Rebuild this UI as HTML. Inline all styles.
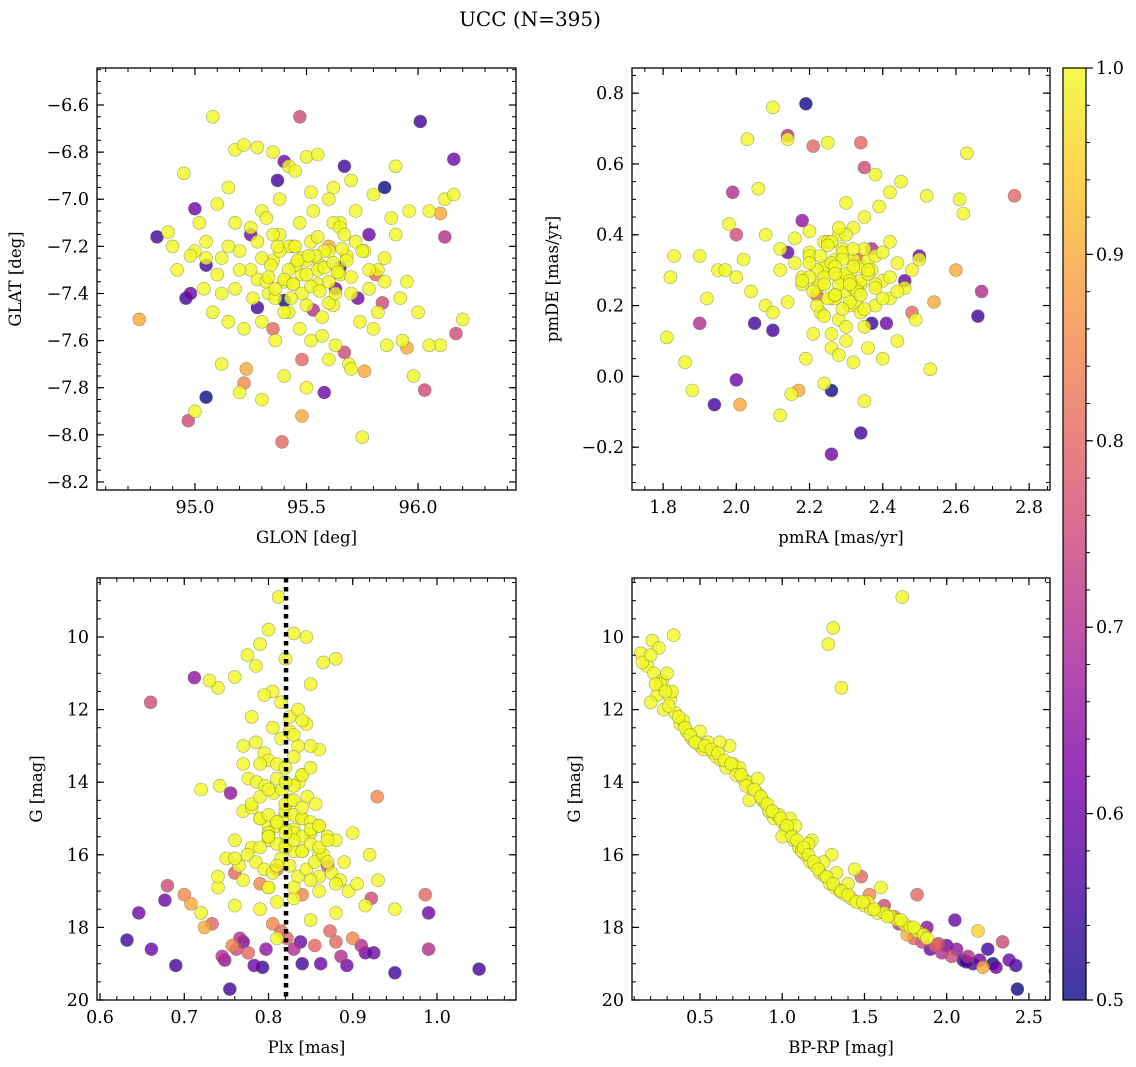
<!DOCTYPE html>
<html><head><meta charset="utf-8">
<style>
html,body{margin:0;padding:0;background:#fff;}
svg{display:block;font-family:"DejaVu Serif","Liberation Serif",serif;}
</style></head>
<body>
<svg id="fig" width="1136" height="1067" viewBox="0 0 1136 1067" xmlns="http://www.w3.org/2000/svg">
<defs>
<linearGradient id="cbgrad" x1="0" y1="1" x2="0" y2="0">
<stop offset="0" stop-color="#0d0887" stop-opacity="0.8"/>
<stop offset="0.125" stop-color="#4c02a1" stop-opacity="0.8"/>
<stop offset="0.25" stop-color="#7e03a8" stop-opacity="0.8"/>
<stop offset="0.375" stop-color="#a92395" stop-opacity="0.8"/>
<stop offset="0.5" stop-color="#cc4778" stop-opacity="0.8"/>
<stop offset="0.625" stop-color="#e66c5c" stop-opacity="0.8"/>
<stop offset="0.75" stop-color="#f89540" stop-opacity="0.8"/>
<stop offset="0.875" stop-color="#fdc527" stop-opacity="0.8"/>
<stop offset="1" stop-color="#f0f921" stop-opacity="0.8"/>
</linearGradient>
</defs>
<text x="530" y="26" font-size="20" text-anchor="middle">UCC (N=395)</text>
</svg>
<script>
// ---------- DATA ----------
const p1Glon = [95.47,96.01,96.16,95.37,95.40,95.67,95.85,95.00,94.83,96.12,96.10,95.05,94.98,94.96,95.28,95.40,95.25,95.63,95.65,95.73,95.84,95.81,95.78,96.17,95.95,95.48,95.67,95.76,95.23,95.22,95.58,95.05,94.97,95.48,95.39,96.03,94.75,95.53,95.35,95.60,
95.08,94.95,95.18,95.22,95.28,95.35,95.42,95.45,95.50,95.55,95.62,95.70,95.80,95.90,95.72,95.65,95.60,95.52,95.38,95.30,95.15,95.10,95.02,94.90,94.88,94.92,95.00,95.05,95.12,95.20,95.25,95.32,95.38,95.44,95.48,95.52,95.56,95.60,95.64,95.68,95.72,95.76,95.82,95.88,95.96,96.05,96.12,96.16,96.20,96.10,96.00,95.92,95.85,95.78,95.70,95.62,95.55,95.48,95.40,95.33,95.26,95.18,95.10,95.04,94.98,95.08,95.15,95.22,95.30,95.36,95.42,95.47,95.52,95.57,95.63,95.69,95.74,95.80,95.86,95.93,95.98,96.05,95.35,95.45,95.55,95.65,95.28,95.42,95.58,95.50,95.44,95.36,95.62,95.70,95.20,95.12,95.00,95.50,95.40,95.60,95.30,95.75],
p1Glat = [-6.65,-6.67,-6.83,-6.92,-6.84,-6.86,-6.95,-7.04,-7.16,-7.16,-7.06,-7.28,-7.40,-7.42,-7.46,-7.43,-7.15,-7.38,-7.29,-7.42,-7.44,-7.32,-7.15,-7.57,-7.63,-7.68,-7.65,-7.73,-7.72,-7.78,-7.82,-7.84,-7.94,-7.92,-8.03,-7.81,-7.51,-7.47,-7.55,-7.20,
-6.65,-6.89,-6.79,-6.77,-6.78,-6.80,-6.86,-6.88,-6.82,-6.81,-6.95,-6.92,-6.98,-6.86,-7.05,-7.10,-7.00,-6.97,-7.00,-7.05,-6.95,-7.02,-7.10,-7.20,-7.14,-7.30,-7.22,-7.18,-7.25,-7.22,-7.12,-7.08,-7.15,-7.20,-7.25,-7.18,-7.28,-7.22,-7.30,-7.24,-7.18,-7.22,-7.30,-7.08,-7.05,-7.05,-7.00,-6.98,-7.51,-7.62,-7.48,-7.42,-7.35,-7.38,-7.40,-7.45,-7.36,-7.32,-7.35,-7.40,-7.42,-7.38,-7.32,-7.38,-7.24,-7.48,-7.52,-7.55,-7.52,-7.60,-7.48,-7.55,-7.60,-7.58,-7.62,-7.70,-7.52,-7.55,-7.62,-7.60,-7.75,-7.62,-7.26,-7.28,-7.30,-7.32,-7.34,-7.20,-7.22,-7.26,-7.36,-7.42,-7.10,-7.72,-7.82,-7.70,-7.90,-7.80,-7.75,-7.68,-7.85,-8.01],
p1Prob = [0.75,0.55,0.6,0.55,0.6,0.55,0.5,0.6,0.55,0.7,0.9,0.55,0.6,0.55,0.55,0.5,0.6,0.6,0.55,0.6,0.75,0.8,0.6,0.75,0.9,0.8,0.75,0.9,0.9,0.85,0.6,0.5,0.75,0.9,0.8,0.75,0.9,0.7,0.8,0.9,
1,1,1,1,1,1,1,1,1,1,1,1,1,1,1,1,1,1,1,1,1,1,1,1,1,1,1,1,1,1,1,1,1,1,1,1,1,1,1,1,1,1,1,1,1,1,1,1,1,1,1,1,1,1,1,1,1,1,1,1,1,1,1,1,1,1,1,1,1,1,1,1,1,1,1,1,1,1,1,1,1,1,1,1,1,1,1,1,1,1,1,1,1,1,1,1,1,1,1,1,1,1];
const p1CoreGlon = [95.30,95.34,95.38,95.42,95.46,95.50,95.54,95.58,95.62,95.66,95.70,95.32,95.36,95.40,95.44,95.48,95.52,95.56,95.60,95.64,95.68,95.28,95.35,95.45,95.55,95.65,95.75,95.25,95.50,95.40,95.60,95.47,95.53,95.43,95.57,95.37,95.63,95.33,95.67,95.51,95.15,95.20,95.85,95.90,95.12,95.18,95.78,95.82,95.05,95.95],
p1CoreGlat = [-7.25,-7.28,-7.22,-7.30,-7.26,-7.32,-7.24,-7.29,-7.27,-7.21,-7.33,-7.35,-7.38,-7.34,-7.36,-7.40,-7.37,-7.39,-7.35,-7.31,-7.26,-7.18,-7.15,-7.20,-7.16,-7.12,-7.22,-7.30,-7.45,-7.48,-7.44,-7.10,-7.05,-7.42,-7.50,-7.20,-7.40,-7.33,-7.15,-7.24,-7.20,-7.30,-7.25,-7.15,-7.40,-7.10,-7.30,-7.48,-7.25,-7.35];

const p2Pmra = [2.19,2.14,2.21,2.34,1.99,2.00,2.18,2.14,2.37,2.50,2.60,2.76,2.67,2.66,2.54,2.48,2.41,2.37,2.05,2.10,1.90,1.94,2.00,2.01,2.26,2.34,2.26,2.17,2.33,2.35,2.46,2.22,
2.10,2.03,2.25,2.14,2.06,2.30,2.38,2.63,2.61,2.62,2.52,2.45,2.42,2.39,2.35,2.32,2.28,2.24,2.20,2.16,2.12,2.08,2.02,1.98,1.95,1.90,1.83,1.82,1.81,1.86,1.88,1.92,1.97,2.00,2.04,2.08,2.12,2.16,2.20,2.24,2.28,2.32,2.36,2.40,2.44,2.48,2.50,2.46,2.42,2.38,2.34,2.30,2.26,2.22,2.18,2.14,2.10,2.25,2.29,2.33,2.27,2.31,2.23,2.35,2.21,2.30,2.26,2.28,2.32,2.24,2.36,2.40,2.19,2.44,2.53,2.49,2.15,2.12,2.27,2.29,2.25,2.34,2.20,2.31,2.38,2.23,2.27,2.24,2.18,2.42,2.35],
p2Pmde = [0.77,0.68,0.65,0.66,0.52,0.40,0.44,0.35,0.36,0.34,0.30,0.51,0.24,0.17,0.21,0.18,0.15,0.15,0.15,0.13,0.15,-0.08,-0.01,-0.08,-0.04,-0.16,-0.22,-0.04,0.33,0.59,0.27,0.23,
0.76,0.67,0.66,0.67,0.53,0.49,0.57,0.63,0.50,0.46,0.51,0.55,0.52,0.48,0.45,0.42,0.40,0.38,0.41,0.39,0.36,0.40,0.33,0.43,0.30,0.34,0.34,0.28,0.11,0.04,-0.04,0.22,0.30,0.28,0.24,0.20,0.30,0.32,0.35,0.30,0.28,0.33,0.30,0.27,0.32,0.30,0.33,0.25,0.22,0.20,0.26,0.24,0.22,0.25,0.28,0.21,0.18,0.30,0.27,0.25,0.22,0.20,0.18,0.14,0.12,0.10,0.08,0.06,0.04,-0.02,0.08,0.05,0.05,0.10,0.02,0.16,-0.05,-0.11,0.33,0.36,0.38,0.31,0.34,0.29,0.26,0.26,0.23,0.31,0.26,0.38,-0.07],
p2Prob = [0.5,0.7,0.8,0.8,0.7,0.75,0.65,0.6,0.7,0.6,0.9,0.8,0.7,0.55,0.9,0.8,0.6,0.55,0.55,0.55,0.7,0.55,0.6,0.9,0.5,0.55,0.6,0.9,0.8,0.75,0.6,0.8,
1,1,1,1,1,1,1,1,1,1,1,1,1,1,1,1,1,1,1,1,1,1,1,1,1,1,1,1,1,1,1,1,1,1,1,1,1,1,1,1,1,1,1,1,1,1,1,1,1,1,1,1,1,1,1,1,1,1,1,1,1,1,1,1,1,1,1,1,1,1,1,1,1,1,1,1,1,1,1,1,1,1,1,1,1,1,1,1,1,1,1,1,1];
const p2CorePmra = [2.22,2.24,2.26,2.28,2.30,2.32,2.34,2.36,2.38,2.21,2.25,2.29,2.33,2.37,2.23,2.27,2.31,2.35,2.20,2.40,2.26,2.30,2.34,2.28,2.32,2.24,2.36,2.29,2.27,2.31,2.25,2.33,2.38,2.22,2.35,2.42,2.18,2.44,2.30,2.26,2.28,2.32,2.36,2.24,2.20,2.40,2.34,2.27,2.31,2.29],
p2CorePmde = [0.30,0.28,0.32,0.26,0.29,0.31,0.27,0.33,0.25,0.24,0.22,0.35,0.20,0.30,0.34,0.23,0.27,0.36,0.28,0.22,0.38,0.40,0.18,0.16,0.25,0.26,0.29,0.33,0.31,0.21,0.37,0.24,0.34,0.20,0.19,0.28,0.27,0.24,0.14,0.12,0.42,0.36,0.30,0.17,0.32,0.35,0.23,0.29,0.26,0.19];

const p3Plx = [0.660,0.712,0.755,0.632,0.646,0.661,0.677,0.680,0.690,0.700,0.708,0.724,0.733,0.745,0.748,0.754,0.757,0.762,0.766,0.770,0.776,0.783,0.793,0.797,0.805,0.815,0.822,0.830,0.838,0.840,0.855,0.862,0.873,0.880,0.886,0.893,0.900,0.910,0.915,0.922,0.925,0.929,0.950,0.986,0.990,0.990,1.050,0.840,0.790,0.810,0.870,0.760,
0.812,0.830,0.800,0.790,0.845,0.775,0.820,0.880,0.785,0.760,0.850,0.865,0.740,0.730,0.720,0.742,0.860,0.920,0.930,0.950,0.805,0.815,0.825,0.835,0.795,0.805,0.815,0.825,0.835,0.845,0.785,0.795,0.800,0.810,0.820,0.830,0.840,0.850,0.776,0.786,0.796,0.806,0.816,0.826,0.836,0.846,0.856,0.770,0.780,0.790,0.800,0.810,0.820,0.830,0.840,0.850,0.860,0.870,0.760,0.780,0.800,0.820,0.840,0.860,0.880,0.890,0.900,0.750,0.765,0.775,0.785,0.795,0.805,0.815,0.825,0.835,0.845,0.855,0.865,0.875,0.885,0.895,0.905,0.770,0.800,0.830,0.860,0.740,0.760,0.790,0.810,0.850,0.880,0.915,0.720,0.740,0.800,0.770,0.830],
p3G = [11.8,11.12,14.3,18.35,17.6,18.6,17.25,16.85,19.05,17.1,17.35,18.0,17.9,18.8,18.9,19.7,18.5,18.6,18.3,18.4,18.7,19.05,19.1,18.6,17.9,18.1,18.3,18.6,18.4,19.0,18.5,19.0,18.1,18.4,18.8,19.05,18.3,18.5,18.7,17.2,18.7,14.4,19.25,17.1,17.6,18.6,19.15,17.1,16.8,16.4,16.3,16.5,
8.9,9.9,9.8,10.2,10.0,10.5,10.6,10.6,10.8,11.1,11.3,10.7,11.4,11.2,14.2,14.1,13.1,16.0,16.7,17.5,11.5,11.8,12.2,12.0,11.6,12.5,12.8,12.6,13.0,12.4,12.9,13.2,13.4,13.5,13.6,13.3,13.8,13.0,13.9,14.0,14.1,14.3,14.2,14.5,14.0,14.4,14.6,14.8,14.7,15.0,15.2,15.1,14.9,15.3,15.0,15.4,15.2,15.5,15.6,15.8,15.6,15.7,15.9,16.0,15.6,16.2,15.4,16.1,16.3,16.0,16.2,16.4,16.5,16.1,16.3,16.6,16.4,16.2,16.0,16.5,16.7,17.0,16.8,16.7,16.9,17.2,17.0,16.9,17.4,17.5,17.3,17.8,17.6,17.4,17.6,16.6,15.4,13.5,15.9,16.9,18.3],
p3Prob = [0.75,0.65,0.65,0.55,0.6,0.6,0.6,0.75,0.55,0.85,0.9,0.9,0.8,0.7,0.65,0.55,0.85,0.75,0.7,0.6,0.8,0.6,0.55,0.65,0.85,0.8,0.8,0.7,0.6,0.55,0.8,0.6,0.8,0.8,0.7,0.6,0.85,0.7,0.6,0.75,0.6,0.85,0.55,0.8,0.6,0.7,0.55,0.85,0.85,0.8,0.75,0.8,
1,1,1,1,1,1,1,1,1,1,1,1,1,1,1,1,1,1,1,1,1,1,1,1,1,1,1,1,1,1,1,1,1,1,1,1,1,1,1,1,1,1,1,1,1,1,1,1,1,1,1,1,1,1,1,1,1,1,1,1,1,1,1,1,1,1,1,1,1,1,1,1,1,1,1,1,1,1,1,1,1,1,1,1,1,1,1,1,1,1,1,1,1,1,1,1,1,1,1,1,1,1,1,1,1,1,1,1];
const p3CorePlx = [0.80,0.81,0.82,0.83,0.84,0.85,0.79,0.80,0.81,0.82,0.83,0.84,0.85,0.86,0.80,0.81,0.82,0.83,0.84,0.78,0.79,0.80,0.81,0.82,0.83,0.84,0.85,0.86,0.87,0.80,0.82,0.84,0.81,0.83,0.79,0.85,0.80,0.82,0.84,0.83,0.77,0.78,0.81,0.86,0.87,0.88,0.76,0.79,0.83,0.85],
p3CoreG = [14.8,14.9,15.0,15.1,15.0,14.9,15.2,15.3,15.4,15.5,15.3,15.2,15.4,15.1,14.6,14.5,14.7,14.6,14.4,15.5,15.7,15.8,15.6,15.9,15.7,15.8,15.6,15.5,15.4,13.8,13.9,14.1,13.5,13.6,14.2,14.0,12.3,12.7,13.0,12.2,16.3,16.6,16.2,16.8,16.1,15.8,16.9,16.7,16.5,16.4];

const p4Bprp = [1.73,1.31,1.28,1.36,0.14,0.21,0.25,0.34,0.18,0.22,0.27,0.30,0.24,0.20,0.28,0.32,0.35,0.38,0.40,0.42,0.45,0.48,0.50,0.52,0.55,0.58,0.60,0.63,0.66,0.70,0.73,0.76,0.79,0.82,0.85,0.88,0.90,0.92,0.95,0.97,1.00,1.02,1.05,1.07,1.10,1.12,1.14,1.17,1.20,1.23,1.26,1.29,1.32,1.35,1.38,1.42,1.46,1.50,1.54,1.58,1.62,1.66,1.70,1.74,1.78,1.82,1.86,0.80,0.92,1.00,1.18,1.30,1.44,1.60,0.68,0.85,1.05,1.12,1.25,1.40,1.52,0.74,0.98,1.08,1.16,1.33,0.50,0.62,0.26,0.33,
1.48,1.53,1.62,1.71,1.76,1.80,1.85,1.88,1.90,1.93,1.97,2.00,2.03,2.06,2.10,2.13,2.16,2.20,2.22,2.25,2.28,2.30,2.34,2.38,2.43,2.66,2.42,1.82,2.05,2.19,1.68,1.95,2.12],
p4G = [8.9,9.75,10.2,11.4,10.45,10.1,10.3,9.95,10.8,11.0,11.2,11.0,11.6,11.8,12.0,11.7,12.1,12.4,12.3,12.6,12.8,12.9,13.0,13.1,12.9,13.2,13.3,13.4,13.6,13.5,13.7,13.9,14.0,14.2,14.3,14.5,14.6,14.8,15.0,14.9,15.1,15.3,15.4,15.6,15.8,15.9,16.0,16.2,16.3,16.5,16.6,16.8,16.9,17.0,17.1,17.2,17.3,17.4,17.5,17.6,17.6,17.7,17.8,17.9,18.0,18.1,18.2,14.5,14.8,15.5,15.6,16.0,16.4,16.9,13.0,13.9,15.0,15.9,16.2,16.8,17.3,13.6,14.9,15.2,15.7,16.5,12.6,12.9,11.3,11.5,
16.6,17.1,17.4,17.9,18.2,18.3,18.4,18.0,18.6,18.5,18.7,18.5,18.8,18.6,18.9,18.8,19.0,18.9,19.1,18.6,19.0,19.1,18.4,18.9,19.7,19.2,19.05,17.1,17.8,18.1,17.7,18.45,18.95],
p4Prob = [1,1,1,1,1,1,1,1,1,1,1,1,1,1,1,1,1,1,1,1,1,1,1,1,1,1,1,1,1,1,1,1,1,1,1,1,1,1,1,1,1,1,1,1,1,1,1,1,1,1,1,1,1,1,1,1,1,1,1,1,1,1,1,1,1,1,1,1,1,1,1,1,1,1,1,1,1,1,1,1,1,1,1,1,1,1,1,1,1,1,
0.8,0.85,0.75,0.7,0.9,0.8,0.75,0.65,0.6,0.8,0.7,0.6,0.75,0.65,0.55,0.7,0.55,0.6,0.9,0.55,0.5,0.6,0.75,0.6,0.5,0.65,0.55,0.8,0.6,0.95,0.85,0.75,0.55];
const p4SeqBprp = [0.15,0.20,0.23,0.29,0.31,0.37,0.41,0.44,0.47,0.53,0.57,0.61,0.65,0.69,0.72,0.75,0.78,0.83,0.87,0.91,0.94,0.99,1.03,1.06,1.09,1.13,1.16,1.19,1.22,1.27,1.31,1.36,1.40,1.45,1.49,1.56,1.64,1.72,1.80,1.88],
p4SeqG = [10.7,10.5,11.3,11.5,11.9,12.2,12.5,12.7,12.9,13.0,13.1,13.2,13.4,13.5,13.8,13.8,14.1,14.2,14.4,14.6,14.8,15.0,15.2,15.5,15.6,15.8,16.0,16.2,16.4,16.6,16.8,17.0,17.1,17.3,17.3,17.5,17.7,17.8,18.0,18.3];

const plxLine = 0.8208;

// ---------- RENDER ----------
const NS = "http://www.w3.org/2000/svg";
const svg = document.getElementById('fig');
const FS = 17.5, LFS = 16.5;
function mk(tag, attrs, parent){const e=document.createElementNS(NS,tag);for(const k in attrs)e.setAttribute(k,attrs[k]);(parent||svg).appendChild(e);return e;}
const stops=[[0,[13,8,135]],[0.125,[76,2,161]],[0.25,[126,3,168]],[0.375,[169,35,149]],[0.5,[204,71,120]],[0.625,[230,108,92]],[0.75,[248,149,64]],[0.875,[253,197,39]],[1,[240,249,33]]];
function plasma(p){let t=(p-0.5)/0.5;t=Math.max(0,Math.min(1,t));for(let i=1;i<stops.length;i++){if(t<=stops[i][0]){const a=stops[i-1],b=stops[i];const f=(t-a[0])/(b[0]-a[0]);const c=a[1].map((v,j)=>Math.round(v+(b[1][j]-v)*f));return `rgb(${c.join(',')})`;}}return 'rgb(240,249,33)';}
function lin(d0,d1,r0,r1){return v=>r0+(v-d0)*(r1-r0)/(d1-d0);}
function fmt(v,dec){let s=v.toFixed(dec);if(v<0)s='\u2212'+(-v).toFixed(dec);return s;}
function withCore(xs,ys,ps,cx,cy){return {xs:xs.concat(cx),ys:ys.concat(cy),ps:ps.concat(cx.map(()=>1))};}

function panel(cfg){
  const g=mk('g',{});
  
  
  const {L,T,R,B}=cfg;
  const sx=lin(cfg.xd[0],cfg.xd[1],L,R), sy=lin(cfg.yd[0],cfg.yd[1],B,T);
  const idx=cfg.xs.map((_,i)=>i).sort((a,b)=>cfg.ps[a]-cfg.ps[b]);
  const clip=mk('clipPath',{id:cfg.name+'-clip'},g);mk('rect',{x:L,y:T,width:R-L,height:B-T},clip);
  const pg=mk('g',{},g);
  
  
  pg.setAttribute('clip-path',`url(#${cfg.name}-clip)`);
  idx.forEach(i=>{
    const c=mk('circle',{cx:sx(cfg.xs[i]).toFixed(1),cy:sy(cfg.ys[i]).toFixed(1),r:6.5,fill:plasma(cfg.ps[i]),'fill-opacity':0.8,stroke:'#6b6b50','stroke-opacity':0.6,'stroke-width':0.6},pg);
    
    
  });
  if(cfg.vline!==undefined){
    const l=mk('line',{x1:sx(cfg.vline),x2:sx(cfg.vline),y1:T,y2:B,stroke:'#000','stroke-width':4.5,'stroke-dasharray':'4.5,4.5'},g);
    
    
  }
  mk('rect',{x:L,y:T,width:R-L,height:B-T,fill:'none',stroke:'#000','stroke-width':1.3},g);
  const eps=1e-9;
  function ticks(d,step){const a=[];const s=Math.ceil(Math.min(d[0],d[1])/step-eps);for(let k=s;k*step<=Math.max(d[0],d[1])+eps;k++)a.push(+(k*step).toFixed(6));return a;}
  ticks(cfg.xd,cfg.xminor).forEach(v=>{const x=sx(v);mk('line',{x1:x,x2:x,y1:B,y2:B-4,stroke:'#000','stroke-width':1},g);mk('line',{x1:x,x2:x,y1:T,y2:T+4,stroke:'#000','stroke-width':1},g);});
  ticks(cfg.yd,cfg.yminor).forEach(v=>{const y=sy(v);mk('line',{x1:L,x2:L+4,y1:y,y2:y,stroke:'#000','stroke-width':1},g);mk('line',{x1:R,x2:R-4,y1:y,y2:y,stroke:'#000','stroke-width':1},g);});
  cfg.xticks.forEach(v=>{const x=sx(v);mk('line',{x1:x,x2:x,y1:B,y2:B-7,stroke:'#000','stroke-width':1.2},g);mk('line',{x1:x,x2:x,y1:T,y2:T+7,stroke:'#000','stroke-width':1.2},g);
    const t=mk('text',{x:x,y:B+23,'font-size':FS,'text-anchor':'middle'},g);t.textContent=fmt(v,cfg.xdec);
    
    });
  cfg.yticks.forEach(v=>{const y=sy(v);mk('line',{x1:L,x2:L+7,y1:y,y2:y,stroke:'#000','stroke-width':1.2},g);mk('line',{x1:R,x2:R-7,y1:y,y2:y,stroke:'#000','stroke-width':1.2},g);
    const t=mk('text',{x:L-8,y:y+6,'font-size':FS,'text-anchor':'end'},g);t.textContent=fmt(v,cfg.ydec);
    
    });
  const xl=mk('text',{x:(L+R)/2,y:B+53,'font-size':LFS,'text-anchor':'middle'},g);xl.textContent=cfg.xlabel;
  
  
  const yl=mk('text',{x:0,y:0,'font-size':LFS,'text-anchor':'middle',transform:`translate(${cfg.ylx},${(T+B)/2}) rotate(-90)`},g);yl.textContent=cfg.ylabel;
  
  
}

const d1=withCore(p1Glon,p1Glat,p1Prob,p1CoreGlon,p1CoreGlat);
const d2=withCore(p2Pmra,p2Pmde,p2Prob,p2CorePmra,p2CorePmde);
const d3=withCore(p3Plx,p3G,p3Prob,p3CorePlx,p3CoreG);
const d4=withCore(p4Bprp,p4G,p4Prob,p4SeqBprp,p4SeqG);

panel(Object.assign({name:'glon-glat-panel',L:97,T:68,R:516,B:490,xd:[94.561,96.439],yd:[-8.234,-6.443],
  xticks:[95,95.5,96],xdec:1,yticks:[-8.2,-8.0,-7.8,-7.6,-7.4,-7.2,-7.0,-6.8,-6.6],ydec:1,xminor:0.1,yminor:0.05,xlabel:'GLON [deg]',ylabel:'GLAT [deg]',ylx:21},d1));
panel(Object.assign({name:'proper-motion-panel',L:632,T:68,R:1050,B:490,xd:[1.715,2.857],yd:[-0.321,0.871],
  xticks:[1.8,2.0,2.2,2.4,2.6,2.8],xdec:1,yticks:[-0.2,0,0.2,0.4,0.6,0.8],ydec:1,xminor:0.05,yminor:0.05,xlabel:'pmRA [mas/yr]',ylabel:'pmDE [mas/yr]',ylx:558},d2));
panel(Object.assign({name:'parallax-panel',L:97,T:578,R:516,B:1000,xd:[0.5964,1.0938],yd:[20,8.375],vline:plxLine,
  xticks:[0.6,0.7,0.8,0.9,1.0],xdec:1,yticks:[10,12,14,16,18,20],ydec:0,xminor:0.02,yminor:0.5,xlabel:'Plx [mas]',ylabel:'G [mag]',ylx:42},d3));
panel(Object.assign({name:'cmd-panel',L:632,T:578,R:1050,B:1000,xd:[0.0866,2.628],yd:[20,8.375],
  xticks:[0.5,1.0,1.5,2.0,2.5],xdec:1,yticks:[10,12,14,16,18,20],ydec:0,xminor:0.1,yminor:0.5,xlabel:'BP-RP [mag]',ylabel:'G [mag]',ylx:580},d4));

const cb=mk('g',{});


mk('rect',{x:1063,y:68,width:23,height:932,fill:'url(#cbgrad)',stroke:'#000','stroke-width':1.2},cb);
const cy=lin(0.5,1.0,1000,68);
for(let k=0;k<=25;k++){const v=0.5+k*0.02;const y=cy(v);mk('line',{x1:1086,x2:1090,y1:y,y2:y,stroke:'#000','stroke-width':1},cb);}
[0.5,0.6,0.7,0.8,0.9,1.0].forEach(v=>{const y=cy(v);mk('line',{x1:1086,x2:1093,y1:y,y2:y,stroke:'#000','stroke-width':1.2},cb);
  const t=mk('text',{x:1096,y:y+6,'font-size':FS},cb);t.textContent=v.toFixed(1);
  
  });
</script>
</body></html>
